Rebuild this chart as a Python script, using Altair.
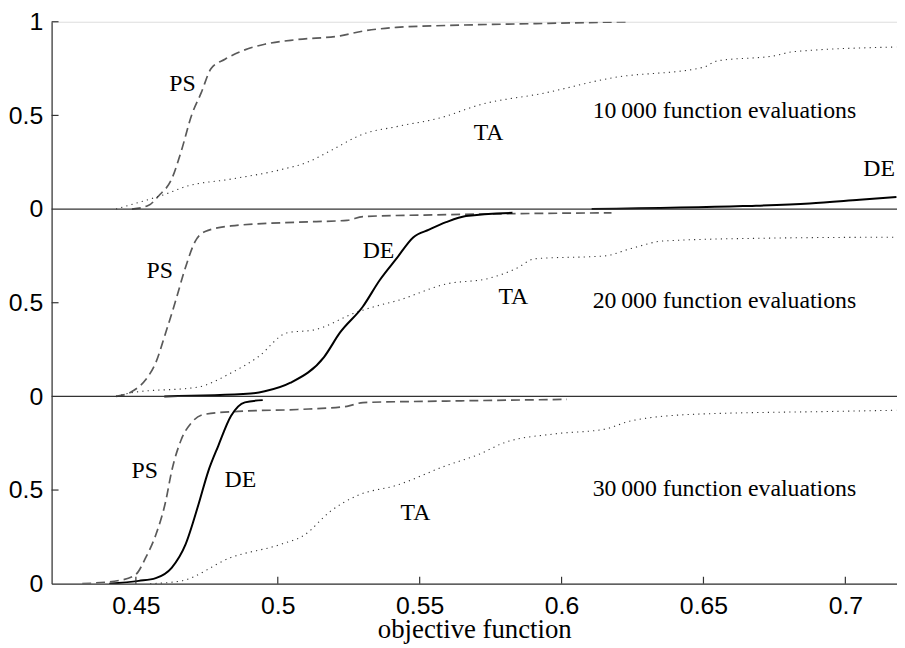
import altair as alt
import pandas as pd

# ---------- data ----------
PANELS = ["10000", "20000", "30000"]
PANEL_OFFSET = {"10000": 2, "20000": 1, "30000": 0}

# Panel 1: 10 000 function evaluations
PS1_x = [0.4486, 0.4545, 0.458, 0.4626, 0.466, 0.4696, 0.473, 0.4765, 0.4814, 0.4884, 0.4954, 0.507, 0.522, 0.530, 0.5418, 0.5593, 0.5907, 0.6239]
PS1_y = [0.0, 0.02, 0.07, 0.16, 0.31, 0.50, 0.62, 0.75, 0.80, 0.85, 0.88, 0.905, 0.925, 0.95, 0.97, 0.98, 0.99, 1.0]
TA1_x = [0.443, 0.452, 0.4605, 0.4675, 0.4835, 0.501, 0.5104, 0.5184, 0.530, 0.5418, 0.558, 0.5708, 0.5942, 0.6176, 0.650, 0.6546, 0.6756, 0.6815, 0.718]
TA1_y = [0.0, 0.04, 0.08, 0.12, 0.16, 0.21, 0.25, 0.31, 0.40, 0.44, 0.49, 0.555, 0.62, 0.70, 0.757, 0.79, 0.82, 0.84, 0.865]
DE1_x = [0.6106, 0.664, 0.6874, 0.705, 0.718]
DE1_y = [0.0, 0.016, 0.03, 0.05, 0.065]

# Panel 2: 20 000 function evaluations
PS2_x = [0.443, 0.4486, 0.4535, 0.457, 0.4605, 0.464, 0.4675, 0.471, 0.4744, 0.4835, 0.507, 0.5244, 0.530, 0.5593, 0.6176]
PS2_y = [0.0, 0.026, 0.09, 0.18, 0.34, 0.51, 0.69, 0.83, 0.88, 0.91, 0.93, 0.94, 0.96, 0.97, 0.98]
TA2_x = [0.443, 0.4486, 0.472, 0.4835, 0.493, 0.5034, 0.5128, 0.5279, 0.5359, 0.5418, 0.5593, 0.5743, 0.5837, 0.5907, 0.6152, 0.6246, 0.6361, 0.6735, 0.718]
TA2_y = [0.0, 0.02, 0.05, 0.125, 0.21, 0.34, 0.355, 0.45, 0.487, 0.51, 0.60, 0.63, 0.68, 0.735, 0.75, 0.79, 0.83, 0.845, 0.85]
DE2_x = [0.46, 0.4905, 0.4954, 0.5045, 0.5163, 0.5219, 0.530, 0.5359, 0.5418, 0.5478, 0.5533, 0.5593, 0.5663, 0.5827]
DE2_y = [0.0, 0.015, 0.027, 0.073, 0.21, 0.34, 0.48, 0.62, 0.735, 0.85, 0.89, 0.93, 0.963, 0.98]

# Panel 3: 30 000 function evaluations
PS3_x = [0.4311, 0.445, 0.45, 0.4535, 0.457, 0.4605, 0.4626, 0.466, 0.4696, 0.4744, 0.486, 0.507, 0.5244, 0.530, 0.5593, 0.6019]
PS3_y = [0.0, 0.02, 0.05, 0.14, 0.26, 0.44, 0.60, 0.77, 0.86, 0.905, 0.92, 0.93, 0.947, 0.967, 0.975, 0.984]
TA3_x = [0.455, 0.466, 0.4835, 0.501, 0.5094, 0.5184, 0.5279, 0.5418, 0.5593, 0.5708, 0.5802, 0.5977, 0.6152, 0.6246, 0.6476, 0.6965, 0.718]
TA3_y = [0.0, 0.015, 0.14, 0.21, 0.26, 0.385, 0.47, 0.525, 0.63, 0.69, 0.755, 0.80, 0.825, 0.87, 0.905, 0.92, 0.926]
DE3_x = [0.4406, 0.451, 0.457, 0.4626, 0.4675, 0.472, 0.4755, 0.479, 0.4835, 0.4884, 0.4947]
DE3_y = [0.0, 0.015, 0.03, 0.085, 0.21, 0.42, 0.60, 0.735, 0.895, 0.968, 0.98]

# annotations
LABEL_text = ["PS", "TA", "DE", "10\u2009000 function evaluations",
              "PS", "DE", "TA", "20\u2009000 function evaluations",
              "PS", "DE", "TA", "30\u2009000 function evaluations"]
LABEL_panel = ["10000"] * 4 + ["20000"] * 4 + ["30000"] * 4
LABEL_x = [0.4664, 0.5743, 0.7119, 0.6574,
           0.4584, 0.5355, 0.583, 0.6574,
           0.4531, 0.4868, 0.5485, 0.6574]
LABEL_y = [0.667, 0.405, 0.214, 0.521,
           0.669, 0.778, 0.532, 0.511,
           0.60, 0.553, 0.376, 0.505]

X_TICKS = [0.45, 0.5, 0.55, 0.6, 0.65, 0.7]
Y_TICKS = [0, 0.5, 1, 1.5, 2, 2.5, 3]
PANEL_BOUNDARIES = [1, 2]
X_DOMAIN = [0.4203, 0.7182]

# ---------- build tables ----------
series = {
    ("10000", "PS"): (PS1_x, PS1_y), ("10000", "TA"): (TA1_x, TA1_y), ("10000", "DE"): (DE1_x, DE1_y),
    ("20000", "PS"): (PS2_x, PS2_y), ("20000", "TA"): (TA2_x, TA2_y), ("20000", "DE"): (DE2_x, DE2_y),
    ("30000", "PS"): (PS3_x, PS3_y), ("30000", "TA"): (TA3_x, TA3_y), ("30000", "DE"): (DE3_x, DE3_y),
}
rows = []
for (panel, method), (xs, ys) in series.items():
    for i, (xv, yv) in enumerate(zip(xs, ys)):
        rows.append({"panel": panel, "method": method, "x": xv, "y": yv,
                     "yp": yv + PANEL_OFFSET[panel], "order": i})
df = pd.DataFrame(rows)

labels = pd.DataFrame({"text": LABEL_text, "panel": LABEL_panel, "x": LABEL_x, "y": LABEL_y})
labels["yp"] = labels["y"] + labels["panel"].map(PANEL_OFFSET)

W, H = 853, 567
xscale = alt.Scale(domain=X_DOMAIN, nice=False, zero=False)
yscale = alt.Scale(domain=[0, 3], nice=False, zero=False)

base = alt.Chart(df)

x_enc = alt.X("x:Q", scale=xscale,
              axis=alt.Axis(values=X_TICKS, format="~g", title="objective function", grid=False,
                            tickSize=0, labelPadding=10, labelFlush=False,
                            labelFont="Liberation Sans", labelFontSize=25, labelColor="black",
                            titleFont="Liberation Serif", titleFontSize=27, titleFontWeight="normal",
                            titleColor="black", titleBaseline="alphabetic", titleY=54,
                            domainColor="#333", domainWidth=1.2))
y_enc = alt.Y("yp:Q", scale=yscale,
              axis=alt.Axis(values=Y_TICKS, title=None, grid=False, tickSize=0, labelPadding=9,
                            labelExpr="datum.value == 3 ? '1' : (datum.value % 1 == 0 ? '0' : '0.5')",
                            labelFont="Liberation Sans", labelFontSize=25, labelColor="black",
                            domainColor="#333", domainWidth=1.2))

ps = base.transform_filter(alt.datum.method == "PS").mark_line(
    color="#5a5a5a", strokeWidth=1.7, strokeDash=[9, 5], clip=True, interpolate="monotone"
).encode(x=x_enc, y=y_enc, detail="panel:N", order="order:Q")

ta = base.transform_filter(alt.datum.method == "TA").mark_line(
    color="#333333", strokeWidth=1.1, strokeDash=[1.2, 4.2], clip=True, interpolate="monotone"
).encode(x="x:Q", y="yp:Q", detail="panel:N", order="order:Q")

de = base.transform_filter(alt.datum.method == "DE").mark_line(
    color="black", strokeWidth=2, clip=True, interpolate="monotone"
).encode(x="x:Q", y="yp:Q", detail="panel:N", order="order:Q")

bounds = alt.Chart(pd.DataFrame({"b": PANEL_BOUNDARIES})).mark_rule(
    color="#333", strokeWidth=1.2
).encode(y="b:Q")

yticks = alt.Chart(pd.DataFrame({"t": [v for v in Y_TICKS if v % 1 != 0] + [3]})).mark_rule(
    color="#333", strokeWidth=1.2
).encode(y="t:Q", x=alt.value(0), x2=alt.value(7))

xticks = alt.Chart(pd.DataFrame({"t": X_TICKS})).mark_rule(
    color="#333", strokeWidth=1.2
).encode(x="t:Q", y=alt.value(H), y2=alt.value(H - 7))

text = alt.Chart(labels).mark_text(
    font="Liberation Serif", fontSize=24, color="black", align="center", baseline="middle"
).encode(x="x:Q", y="yp:Q", text="text:N")

chart = alt.layer(ps, ta, de, bounds, yticks, xticks, text).properties(
    width=W, height=H,
    autosize=alt.AutoSizeParams(type="none"),
    padding={"left": 44, "top": 11, "right": 0, "bottom": 62},
).configure_view(stroke=None).configure(background="white")

chart.save("out.html", embed_options={"renderer": "svg", "actions": False})
